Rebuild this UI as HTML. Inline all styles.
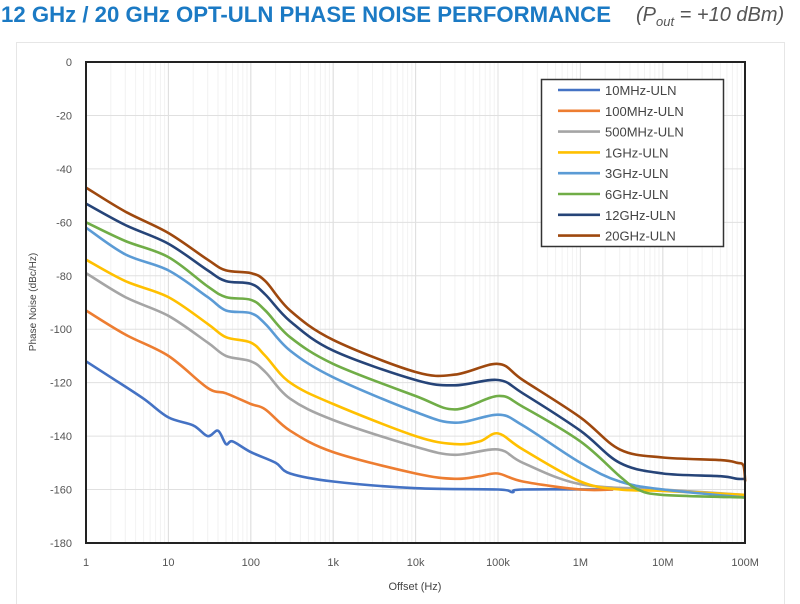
<!DOCTYPE html>
<html><head><meta charset="utf-8"><style>
html,body{margin:0;padding:0;background:#fff;}
svg{display:block;font-family:"Liberation Sans",sans-serif;}
</style></head><body>
<svg id="s" width="800" height="604" viewBox="0 0 800 604" xmlns="http://www.w3.org/2000/svg">
<text x="1" y="22" font-size="22" font-weight="bold" fill="#1b7ac4" textLength="610" lengthAdjust="spacingAndGlyphs">12 GHz / 20 GHz OPT-ULN PHASE NOISE PERFORMANCE</text>
<text x="636" y="21" font-size="20" font-style="italic" fill="#555">(<tspan>P</tspan><tspan font-size="13" dy="5">out</tspan><tspan dy="-5"> = +10 dBm)</tspan></text>
<rect x="16.5" y="42.5" width="768" height="570" fill="#fff" stroke="#e6e6e6"/>
<g id="grid"></g>
<g id="curves" fill="none" stroke-width="2.6" stroke-linejoin="round"></g>
<rect x="86" y="62" width="659" height="481" fill="none" stroke="#222" stroke-width="2"/>
<g font-size="11" fill="#555" text-anchor="end" id="ylab"></g>
<g font-size="11" fill="#555" text-anchor="middle" id="xlab"></g>
<text x="415" y="590" font-size="11" fill="#444" text-anchor="middle">Offset (Hz)</text>
<text transform="translate(36,302) rotate(-90)" font-size="10" fill="#444" text-anchor="middle">Phase Noise (dBc/Hz)</text>
<rect x="541.5" y="79.5" width="182" height="167" fill="#fff" stroke="#333" stroke-width="1.5"/>
<g id="leg" font-size="13" fill="#444"></g>
</svg>
<script>
const NS="http://www.w3.org/2000/svg";
const X=f=>86+82.4*Math.log10(f), Y=d=>62-2.672*d;
function el(p,t,a,txt){const e=document.createElementNS(NS,t);for(const k in a)e.setAttribute(k,a[k]);if(txt!==undefined)e.textContent=txt;document.getElementById(p).appendChild(e);return e;}
for(let d=0;d<8;d++)for(let m=1;m<=10;m++){const x=X(m*Math.pow(10,d));el("grid","line",{x1:x,x2:x,y1:62,y2:543,stroke:m==1||m==10?"#e0e0e0":"#f2f2f2","stroke-width":1});}
for(let v=0;v>=-180;v-=20){el("grid","line",{x1:86,x2:745,y1:Y(v),y2:Y(v),stroke:"#e0e0e0"});el("ylab","text",{x:72,y:Y(v)+4},v);}
["1","10","100","1k","10k","100k","1M","10M","100M"].forEach((t,i)=>el("xlab","text",{x:86+82.4*i,y:566},t));
const S=[
["#4472C4",[[1,-112],[2,-118],[5,-126],[10,-133],[20,-136],[30,-140],[40,-138],[50,-143],[60,-142],[100,-146],[200,-150],[300,-154],[1e3,-157],[1e4,-159.5],[1e5,-160],[1.5e5,-161],[2e5,-160],[2.5e6,-160]]],
["#ED7D31",[[1,-93],[3,-102],[10,-110],[30,-122],[50,-124],[100,-128],[150,-130],[300,-138],[1e3,-146],[1e4,-154],[3e4,-156],[6e4,-155],[1e5,-154],[2e5,-157],[1e6,-160],[2.5e6,-160]]],
["#A5A5A5",[[1,-79],[3,-88],[10,-95],[30,-105],[50,-110],[100,-112],[150,-116],[300,-126],[1e3,-134],[1e4,-144],[3e4,-147],[1e5,-145],[2e5,-150],[1e6,-158],[1e7,-160],[1e8,-162]]],
["#FFC000",[[1,-74],[3,-82],[10,-88],[30,-98],[50,-103],[100,-105],[150,-110],[300,-120],[1e3,-128],[1e4,-140],[3e4,-143],[6e4,-142],[1e5,-139],[2e5,-145],[1e6,-157],[3e6,-160],[1e7,-160.5],[1e8,-162]]],
["#5B9BD5",[[1,-62],[3,-72],[10,-78],[30,-88],[50,-93],[100,-94],[150,-98],[300,-108],[1e3,-118],[1e4,-131],[3e4,-135],[1e5,-132],[2e5,-136],[1e6,-150],[3e6,-157],[1e7,-160],[1e8,-163]]],
["#70AD47",[[1,-60],[3,-67],[10,-73],[30,-84],[50,-88],[100,-89],[150,-93],[300,-103],[1e3,-113],[1e4,-125],[3e4,-130],[1e5,-125],[2e5,-129],[1e6,-142],[3e6,-155],[5e6,-160],[1e7,-162],[1e8,-163]]],
["#264478",[[1,-53],[3,-61],[10,-68],[30,-78],[50,-82],[100,-83],[150,-87],[300,-97],[1e3,-108],[1e4,-119],[3e4,-121],[1e5,-119],[2e5,-124],[1e6,-138],[3e6,-150],[1e7,-154],[5e7,-155],[8e7,-156],[1e8,-156]]],
["#9E480E",[[1,-47],[3,-56],[10,-64],[30,-74],[50,-78],[100,-79],[150,-82],[300,-93],[1e3,-104],[1e4,-116],[3e4,-117],[1e5,-113],[2e5,-119],[1e6,-133],[3e6,-145],[1e7,-148],[5e7,-149],[8e7,-150],[9.5e7,-151],[1e8,-157]]]];
const names=["10MHz-ULN","100MHz-ULN","500MHz-ULN","1GHz-ULN","3GHz-ULN","6GHz-ULN","12GHz-ULN","20GHz-ULN"];
S.forEach(([c,pts],i)=>{
 const P=pts.map(([f,d])=>[X(f),Y(d)]);
 let d="M"+P[0][0].toFixed(1)+","+P[0][1].toFixed(1);
 for(let k=0;k<P.length-1;k++){const p0=P[k-1]||P[k],p1=P[k],p2=P[k+1],p3=P[k+2]||P[k+1];
  const c1=[p1[0]+(p2[0]-p0[0])/6,p1[1]+(p2[1]-p0[1])/6],c2=[p2[0]-(p3[0]-p1[0])/6,p2[1]-(p3[1]-p1[1])/6];
  d+=" C"+c1.map(v=>v.toFixed(1))+" "+c2.map(v=>v.toFixed(1))+" "+p2.map(v=>v.toFixed(1));}
 el("curves","path",{d:d,stroke:c});
 const y=90+20.8*i;
 el("leg","line",{x1:558,x2:600,y1:y,y2:y,stroke:c,"stroke-width":2.6});
 el("leg","text",{x:605,y:y+5},names[i]);
});
</script>
</body></html>
